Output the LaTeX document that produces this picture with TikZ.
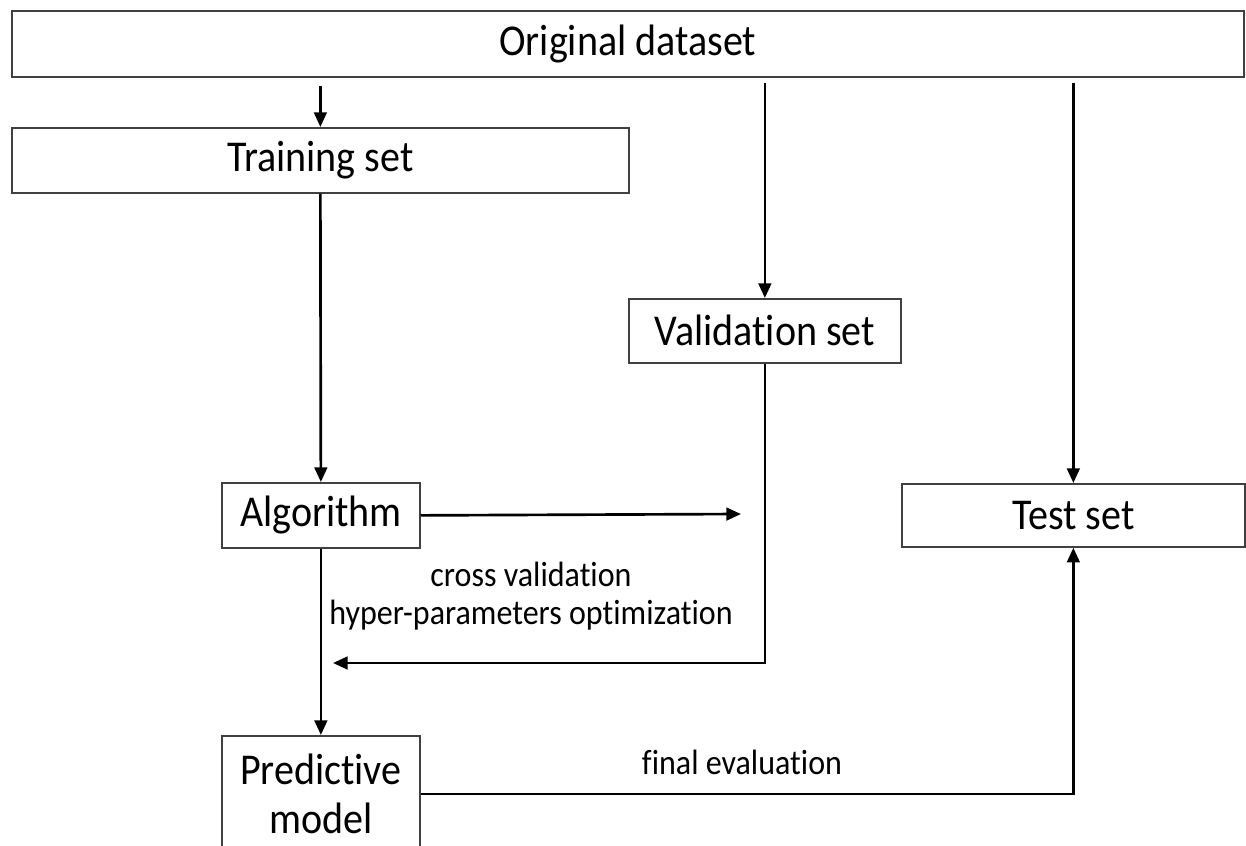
\documentclass[tikz,border=0pt]{standalone}
\usepackage{fontspec}
\setmainfont[Ligatures=NoCommon, FakeStretch=0.91]{Carlito}
\usetikzlibrary{arrows.meta}
\begin{document}
\begin{tikzpicture}[x=0.75pt,y=-0.75pt,
  box/.style={draw=black!75, line width=1.3pt, fill=white, inner sep=0pt, anchor=north west, font=\fontsize{33}{37}\selectfont},
  arr/.style={line width=2pt, -{Triangle[length=11pt,width=9.5pt]}},
  lbl/.style={font=\fontsize{26.4}{28}\selectfont, align=center, inner sep=0pt}]
\clip (0,0) rectangle (1246,846);
\fill[white] (0,0) rectangle (1246,846);
\node[box, minimum width=1232*0.75pt, minimum height=66*0.75pt] (orig) at (11,10) {Original dataset};
\node[box, minimum width=617*0.75pt, minimum height=65*0.75pt] (tr) at (11,127) {Training set};
\node[box, minimum width=272*0.75pt, minimum height=64*0.75pt] (val) at (628,298) {Validation set};
\node[box, minimum width=198*0.75pt, minimum height=65*0.75pt] (alg) at (221,482) {Algorithm};
\node[box, minimum width=343*0.75pt, minimum height=63*0.75pt] (test) at (901,483) {Test set};
\node[box, minimum width=198*0.75pt, minimum height=116*0.75pt, align=center] (pm) at (221,735) {Predictive\\model};
\coordinate (algout) at (741,514);
\coordinate (cvin) at (333,663);
\draw[arr, shorten <=6pt] (orig.south -| tr.north) -- (tr.north);
\draw[arr, shorten <=4pt] (orig.south -| val.north) -- (val.north);
\draw[arr, shorten <=4pt] (orig.south -| test.north) -- (test.north);
\draw[arr] (tr.south) -- (alg.north);
\draw[arr] (alg.east) -- (algout);
\draw[arr] (val.south) -- (val.south |- cvin) -- (cvin);
\draw[arr] (alg.south) -- (pm.north);
\draw[arr] (pm.east) -- (test.south |- pm.east) -- (test.south);
\node[lbl] (cv) at (531,596) {cross validation\\hyper-parameters optimization};
\node[lbl] (fe) at (742,762) {final evaluation};
\end{tikzpicture}
\end{document}
